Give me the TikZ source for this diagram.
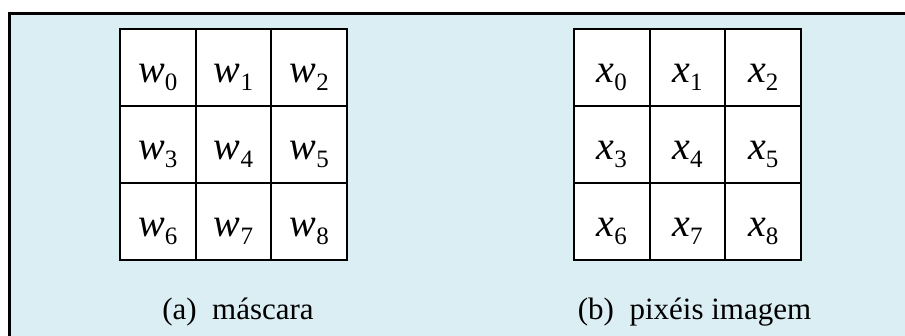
\documentclass[tikz,border=0pt]{standalone}
\usepackage{fontspec}
\setmainfont{Liberation Serif}
\definecolor{bgblue}{RGB}{219,238,244}
\begin{document}
\begin{tikzpicture}[x=1pt,y=-1pt,
  cell/.style={draw=black,line width=2pt,fill=white,minimum width=75.67pt,minimum height=77pt,inner sep=0pt,outer sep=0pt},
  lab/.style={anchor=base,inner sep=0pt,font=\fontsize{40}{42}\selectfont\itshape},
  captext/.style={anchor=base,inner sep=0pt,font=\fontsize{31}{34}\selectfont}]
\useasboundingbox (0,0) rectangle (905,336);
\fill[bgblue] (8,12) rectangle (905,336);
\draw[line width=3.8pt] (905,13.5) -- (9.5,13.5) -- (9.5,336);
\foreach \r in {0,1,2} {
  \foreach \c in {0,1,2} {
    \pgfmathtruncatemacro\k{3*\r+\c}
    \node[cell] (w\k) at (120+75.67*\c+37.83, 29+77*\r+38.5) {};
    \node[lab] (lw\k) at ([yshift=-15.5pt]w\k.center) {w\raisebox{-8pt}{\fontsize{25}{27}\selectfont\upshape\k}};
    \node[cell] (x\k) at (574+75.67*\c+37.83, 29+77*\r+38.5) {};
    \node[lab] (lx\k) at ([yshift=-15.5pt]x\k.center) {x\raisebox{-8pt}{\fontsize{25}{27}\selectfont\upshape\k}};
  }
}
\node[captext] (capa) at (238,320) {(a)\ \ máscara};
\node[captext] (capb) at (694.5,320) {(b)\ \ pixéis imagem};
\end{tikzpicture}
\end{document}
